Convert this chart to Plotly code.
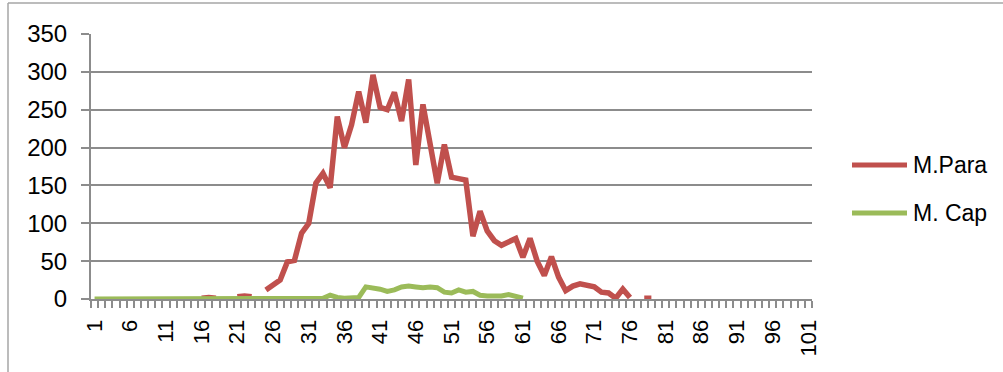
import plotly.graph_objects as go

# Category index along the x axis
categories = list(range(1, 102))

# M.Para counts per category (None = no value recorded)
m_para = (
    [None] * 15
    + [1, 2, 1, None, None, 3, 4, 3, None]
    + [12, 18, 25, 49, 51, 87, 100, 153, 166, 147,
       241, 200, 230, 274, 233, 296, 253, 250, 273, 235,
       290, 177, 257, 205, 153, 204, 161, 159, 157, 83,
       116, 90, 77, 71, 76, 80, 55, 80, 50, 31,
       56, 29, 11, 17, 20, 18, 16, 9, 8, 1,
       13, 2, None, 1, 1]
    + [None] * 22
)

# M. Cap counts per category
m_cap = (
    [0] * 32
    + [1, 5, 2, 1, 1, 2, 16, 15, 13, 10,
       12, 16, 17, 16, 15, 16, 15, 9, 8, 12,
       9, 10, 5, 4, 4, 4, 6, 3, 1]
    + [None] * 40
)

x_ticks = list(range(1, 102, 5))
y_ticks = list(range(0, 351, 50))

series_names = ["M.Para", "M. Cap"]
series_colors = ["#C0504D", "#9BBB59"]

FONT = "Liberation Sans, Arial, sans-serif"
GRID = "#8C8C8C"

fig = go.Figure()
fig.add_trace(go.Scatter(x=categories, y=m_para, mode="lines", name=series_names[0],
                         line=dict(color=series_colors[0], width=5.5), showlegend=False))
fig.add_trace(go.Scatter(x=categories, y=m_cap, mode="lines", name=series_names[1],
                         line=dict(color=series_colors[1], width=5), showlegend=False))

# Plot area in pixels: left 91, right 812, top 34, bottom 299
L, R, T, B = 91, 812, 34, 299
W, H = R - L, B - T


def px_x(p):
    return (p - L) / W


def px_y(p):
    return (B - p) / H


shapes = []
annotations = []
# legend: line sample + label for each series
for name, color, ypx in zip(series_names, series_colors, [165, 213]):
    shapes.append(dict(type="line", xref="paper", yref="paper",
                       x0=px_x(852), x1=px_x(907), y0=px_y(ypx), y1=px_y(ypx),
                       line=dict(color=color, width=5)))
    annotations.append(dict(xref="paper", yref="paper", x=px_x(911), y=px_y(ypx),
                            xanchor="left", yanchor="middle", text=name, showarrow=False,
                            font=dict(family=FONT, size=23, color="#000000")))

# chart-area border (top and left edges)
shapes.append(dict(type="line", xref="paper", yref="paper",
                   x0=px_x(8), x1=px_x(1010), y0=px_y(3), y1=px_y(3),
                   line=dict(color="#A6A6A6", width=1.5)))
shapes.append(dict(type="line", xref="paper", yref="paper",
                   x0=px_x(8), x1=px_x(8), y0=px_y(3), y1=px_y(380),
                   line=dict(color="#A6A6A6", width=1.5)))

fig.update_layout(
    width=1003, height=372,
    margin=dict(l=L, r=1003 - R, t=T, b=372 - B, pad=0),
    paper_bgcolor="white", plot_bgcolor="white",
    font=dict(family=FONT, size=22, color="#000000"),
    shapes=shapes, annotations=annotations,
    showlegend=False,
)

fig.update_xaxes(
    range=[0.5, 101.5], tickmode="array", tickvals=x_ticks,
    ticktext=[str(v) for v in x_ticks], tickangle=-90,
    ticks="", showgrid=False, zeroline=False,
    showline=True, linecolor=GRID, linewidth=2,
    tickfont=dict(family=FONT, size=22), ticklabelstandoff=10,
    minor=dict(tick0=0.5, dtick=1, ticks="outside", ticklen=7,
               tickwidth=1.5, tickcolor=GRID, showgrid=False),
)
fig.update_yaxes(
    range=[0, 350], tickmode="array", tickvals=y_ticks,
    showgrid=True, gridcolor=GRID, gridwidth=2, zeroline=False,
    showline=True, linecolor=GRID, linewidth=2,
    ticks="outside", ticklen=8, tickwidth=2, tickcolor=GRID,
    tickfont=dict(family=FONT, size=24), ticklabelstandoff=9,
)

fig.write_html("out.html")
